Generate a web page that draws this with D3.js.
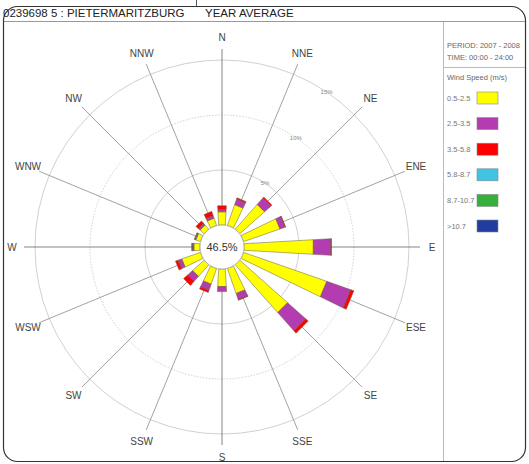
<!DOCTYPE html>
<html>
<head>
<meta charset="utf-8">
<script src="https://cdn.jsdelivr.net/npm/d3@7"></script>
<style>
  body { margin: 0; background: #fff; }
  svg { font-family: "Liberation Sans", Arial, sans-serif; }
</style>
</head>
<body>
<svg class="main"></svg>
<script>
var width = 529,
    height = 464,
    cx = 222, // rose centre
    cy = 247,
    calmRadius = 22,
    outerRadius = 187,
    spokeRadius = 198,
    labelRadius = 210;

// wind directions, clockwise from north
var directions = ['N', 'NNE', 'NE', 'ENE', 'E', 'ESE', 'SE', 'SSE',
    'S', 'SSW', 'SW', 'WSW', 'W', 'WNW', 'NW', 'NNW'];

// frequency (%) per speed class, one value per direction
var speed0525 = [1.2, 2.0, 3.0, 3.5, 6.3, 8.0, 5.8, 2.4, 1.6, 1.5, 1.4, 1.8, 0.55, 0.45, 0.5, 0.7];
var speed2535 = [0.2, 0.55, 0.8, 0.5, 1.6, 2.3, 2.2, 0.6, 0.45, 0.6, 0.6, 0.35, 0.15, 0.1, 0.2, 0.25];
var speed3558 = [0.35, 0.1, 0.1, 0.05, 0.05, 0.3, 0.3, 0.05, 0.0, 0.2, 0.5, 0.25, 0.0, 0.0, 0.3, 0.4];
var speed5887 = [0, 0, 0, 0, 0, 0, 0, 0, 0, 0, 0, 0, 0, 0, 0, 0];
var speed87107 = [0, 0, 0, 0, 0, 0, 0, 0, 0, 0, 0, 0, 0, 0.05, 0, 0];
var speed107 = [0, 0, 0, 0, 0, 0, 0, 0, 0, 0, 0, 0, 0.05, 0, 0, 0];

var speedLabels = ['0.5-2.5', '2.5-3.5', '3.5-5.8', '5.8-8.7', '8.7-10.7', '>10.7'];
var speedColors = ['#ffff00', '#b23cb0', '#ff0000', '#40c4e4', '#36b03a', '#1f3ea0'];
var ringTicks = [5, 10, 15];
var calmPercent = '46.5%';

var stationTitle = '0239698 5 : PIETERMARITZBURG',
    averageTitle = 'YEAR AVERAGE',
    periodText = 'PERIOD: 2007 - 2008',
    timeText = 'TIME: 00:00 - 24:00',
    legendTitle = 'Wind Speed (m/s)';

var series = [speed0525, speed2535, speed3558, speed5887, speed87107, speed107];

var r = d3.scaleLinear()
    .domain([0, 15])
    .range([calmRadius, outerRadius]);

var angle = d3.scaleLinear()
    .domain([0, directions.length])
    .range([0, 2 * Math.PI]);

var svg = d3.select('svg')
    .attr('width', width)
    .attr('height', height);

// frame
svg.append('rect')
    .attr('x', 3.5).attr('y', 6.5)
    .attr('width', 522).attr('height', 455)
    .attr('rx', 14)
    .attr('fill', '#fff')
    .attr('stroke', '#333')
    .attr('stroke-width', 1.2);

svg.append('line')
    .attr('x1', 196.5).attr('x2', 196.5)
    .attr('y1', 0).attr('y2', 6)
    .attr('stroke', '#555');

svg.append('text')
    .attr('x', 3).attr('y', 17)
    .attr('font-size', 11.5)
    .attr('fill', '#222')
    .text(stationTitle);

svg.append('text')
    .attr('x', 205).attr('y', 17)
    .attr('font-size', 11.5)
    .attr('fill', '#222')
    .text(averageTitle);

svg.append('line')
    .attr('x1', 4).attr('x2', 525)
    .attr('y1', 21.5).attr('y2', 21.5)
    .attr('stroke', '#999');

svg.append('line')
    .attr('x1', 443.5).attr('x2', 443.5)
    .attr('y1', 22).attr('y2', 461)
    .attr('stroke', '#bbb');

var rose = svg.append('g')
    .attr('transform', `translate(${cx},${cy})`);

function polar(a, rad) {
    return [rad * Math.sin(a), -rad * Math.cos(a)];
}

// rings
rose.selectAll('.ring')
    .data(ringTicks)
    .enter().append('circle')
    .attr('class', 'ring')
    .attr('r', d => r(d))
    .attr('fill', 'none')
    .attr('stroke', '#c4c4c4')
    .attr('stroke-width', 0.8)
    .attr('stroke-dasharray', d => d == 10 ? '1.5,1.5' : null);

// spokes
rose.selectAll('.spoke')
    .data(directions)
    .enter().append('line')
    .attr('class', 'spoke')
    .attr('x1', 0).attr('y1', 0)
    .attr('x2', (d, i) => polar(angle(i), spokeRadius)[0])
    .attr('y2', (d, i) => polar(angle(i), spokeRadius)[1])
    .attr('stroke', (d, i) => i % 4 == 0 ? '#666' : '#8a8a8a')
    .attr('stroke-width', 0.8);

rose.selectAll('.dirLabel')
    .data(directions)
    .enter().append('text')
    .attr('class', 'dirLabel')
    .attr('x', (d, i) => polar(angle(i), labelRadius)[0])
    .attr('y', (d, i) => polar(angle(i), labelRadius)[1])
    .attr('dy', '0.35em')
    .attr('text-anchor', 'middle')
    .attr('font-size', 10)
    .attr('fill', '#444')
    .text(d => d);

// ring labels
var ringAngle = 34 * Math.PI / 180;
rose.selectAll('.ringLabel')
    .data(ringTicks)
    .enter().append('text')
    .attr('class', 'ringLabel')
    .attr('x', d => polar(ringAngle, r(d))[0])
    .attr('y', d => polar(ringAngle, r(d))[1])
    .attr('dy', '0.35em')
    .attr('text-anchor', 'middle')
    .attr('font-size', 6)
    .attr('fill', '#888')
    .text(d => d + '%');

// stacked bars, a tapering wedge per speed class
function halfWidth(rad) {
    return 2 + 0.058 * rad;
}

var segments = [];
directions.forEach(function(dir, i) {
    var cum = 0;
    series.forEach(function(s, k) {
        if (s[i] > 0) {
            segments.push({dir: i, cls: k, r1: r(cum), r2: r(cum + s[i])});
        }
        cum += s[i];
    });
});

var line = d3.line();

rose.selectAll('.bar')
    .data(segments)
    .enter().append('path')
    .attr('class', 'bar')
    .attr('d', function(d) {
        var a = angle(d.dir),
            ux = Math.sin(a), uy = -Math.cos(a),
            px = -uy, py = ux,
            w1 = halfWidth(d.r1), w2 = halfWidth(d.r2);
        return line([
            [ux * d.r1 + px * w1, uy * d.r1 + py * w1],
            [ux * d.r2 + px * w2, uy * d.r2 + py * w2],
            [ux * d.r2 - px * w2, uy * d.r2 - py * w2],
            [ux * d.r1 - px * w1, uy * d.r1 - py * w1]
        ]) + 'Z';
    })
    .attr('fill', d => speedColors[d.cls])
    .attr('stroke', '#6a5a3a')
    .attr('stroke-width', 0.5);

// calm circle
rose.append('circle')
    .attr('r', calmRadius)
    .attr('fill', '#fff')
    .attr('stroke', '#aaa')
    .attr('stroke-width', 0.8);

rose.append('text')
    .attr('text-anchor', 'middle')
    .attr('dy', '0.35em')
    .attr('font-size', 11)
    .attr('fill', '#333')
    .text(calmPercent);

// legend
var legend = svg.append('g');

legend.append('text')
    .attr('x', 447).attr('y', 48)
    .attr('font-size', 7.5).attr('fill', '#666')
    .text(periodText);

legend.append('text')
    .attr('x', 447).attr('y', 60)
    .attr('font-size', 7.5).attr('fill', '#666')
    .text(timeText);

legend.append('line')
    .attr('x1', 444).attr('x2', 525)
    .attr('y1', 67.5).attr('y2', 67.5)
    .attr('stroke', '#bbb');

legend.append('text')
    .attr('x', 447).attr('y', 80)
    .attr('font-size', 7.5).attr('fill', '#666')
    .text(legendTitle);

var ly = d3.scaleLinear()
    .domain([0, speedLabels.length - 1])
    .range([98, 226]);

var item = legend.selectAll('.item')
    .data(speedLabels)
    .enter().append('g')
    .attr('class', 'item')
    .attr('transform', (d, i) => `translate(0,${ly(i)})`);

item.append('text')
    .attr('x', 447).attr('dy', '0.35em')
    .attr('font-size', 7.5).attr('fill', '#777')
    .text(d => d);

item.append('rect')
    .attr('x', 477).attr('y', -6)
    .attr('width', 21).attr('height', 12)
    .attr('fill', (d, i) => speedColors[i])
    .attr('stroke', '#888')
    .attr('stroke-width', 0.6);
</script>
</body>
</html>
